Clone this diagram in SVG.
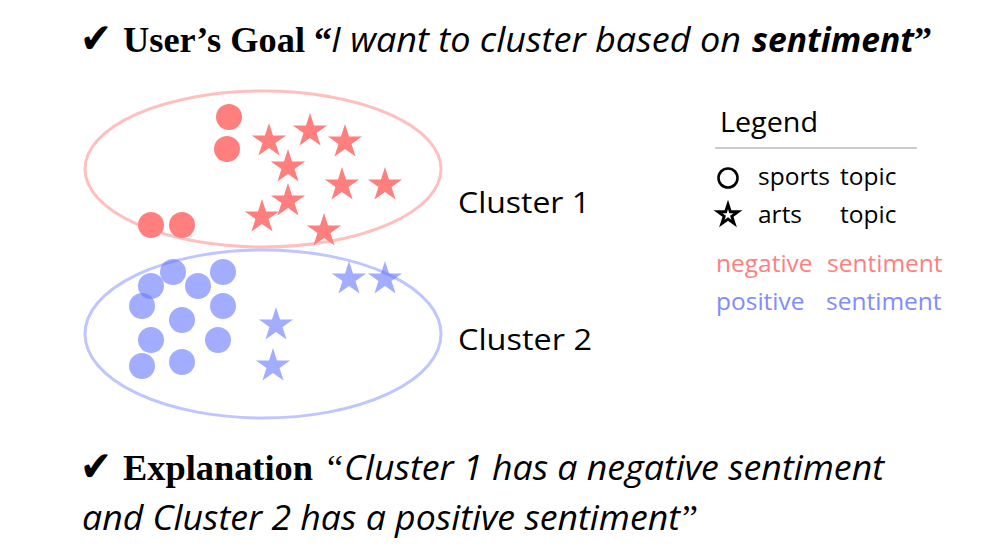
<svg xmlns="http://www.w3.org/2000/svg" xmlns:xlink="http://www.w3.org/1999/xlink" width="981" height="554" viewBox="0 0 981 554">
<style>
.serifb{font-family:"Liberation Serif","Times New Roman",serif;font-weight:bold;font-size:36px;fill:#000}
.chk{font-family:"DejaVu Sans",sans-serif;font-size:42px;font-weight:bold;fill:#000}
.it{font-family:"Open Sans","Noto Sans",sans-serif;font-style:italic;font-size:34px;fill:#000}
.lbl{font-family:"Open Sans","Noto Sans",sans-serif;font-size:30px;fill:#000}
.leg{font-family:"Open Sans","Noto Sans",sans-serif;font-size:24.5px;fill:#000}
.red{fill:#ff7f7f}
.blue{fill:#6677ff;fill-opacity:0.6}
</style>
<defs>
<polygon id="star" points="0,-18 4.04,-5.56 17.12,-5.56 6.53,2.12 10.58,14.56 0,6.88 -10.58,14.56 -6.53,2.12 -17.12,-5.56 -4.04,-5.56"/>
<circle id="dot" r="13"/>
</defs>
<rect width="981" height="554" fill="#fff"/>

<g id="title">
<text class="chk" x="80" y="53" textLength="32" lengthAdjust="spacingAndGlyphs">✔</text>
<text class="serifb" x="123" y="52" textLength="182" lengthAdjust="spacingAndGlyphs">User’s Goal</text>
<text class="serifb" x="314" y="52">“</text>
<text class="it" x="331" y="52" textLength="410" lengthAdjust="spacingAndGlyphs">I want to cluster based on</text>
<text class="it" x="752" y="52" font-weight="bold" textLength="162" lengthAdjust="spacingAndGlyphs">sentiment</text>
<text class="serifb" x="914" y="52">”</text>
</g>

<g id="cluster1">
<ellipse cx="263" cy="169" rx="178" ry="78" fill="none" stroke="#ff7f7f" stroke-opacity="0.5" stroke-width="3"/>
<g class="red">
<use xlink:href="#dot" x="229" y="117"/>
<use xlink:href="#dot" x="227" y="149"/>
<use xlink:href="#dot" x="151" y="225"/>
<use xlink:href="#dot" x="182" y="225"/>
<use xlink:href="#star" x="269" y="141"/>
<use xlink:href="#star" x="310" y="131"/>
<use xlink:href="#star" x="345" y="142"/>
<use xlink:href="#star" x="288" y="167"/>
<use xlink:href="#star" x="342" y="185"/>
<use xlink:href="#star" x="385" y="185"/>
<use xlink:href="#star" x="288" y="201"/>
<use xlink:href="#star" x="262" y="217"/>
<use xlink:href="#star" x="324" y="231"/>
</g>
<text class="lbl" x="458" y="213" textLength="132" lengthAdjust="spacingAndGlyphs">Cluster 1</text>
</g>

<g id="cluster2">
<ellipse cx="263" cy="334" rx="178" ry="84" fill="none" stroke="#6677ff" stroke-opacity="0.42" stroke-width="3"/>
<g class="blue">
<use xlink:href="#dot" x="151" y="286"/>
<use xlink:href="#dot" x="173" y="272"/>
<use xlink:href="#dot" x="198" y="286"/>
<use xlink:href="#dot" x="223" y="272"/>
<use xlink:href="#dot" x="142" y="306"/>
<use xlink:href="#dot" x="182" y="320"/>
<use xlink:href="#dot" x="223" y="306"/>
<use xlink:href="#dot" x="151" y="340"/>
<use xlink:href="#dot" x="218" y="340"/>
<use xlink:href="#dot" x="142" y="366"/>
<use xlink:href="#dot" x="182" y="362"/>
<use xlink:href="#star" x="349" y="279"/>
<use xlink:href="#star" x="385" y="279"/>
<use xlink:href="#star" x="276" y="325"/>
<use xlink:href="#star" x="273" y="366"/>
</g>
<text class="lbl" x="458" y="350" textLength="134" lengthAdjust="spacingAndGlyphs">Cluster 2</text>
</g>

<g id="legend">
<text class="leg" x="720" y="132" style="font-size:27px" textLength="98" lengthAdjust="spacingAndGlyphs">Legend</text>
<line x1="715" y1="148" x2="917" y2="148" stroke="#bbb" stroke-width="1.5"/>
<circle cx="728" cy="178" r="9.5" fill="none" stroke="#000" stroke-width="2.6"/>
<text class="leg" x="758" y="185">sports</text>
<text class="leg" x="840" y="185">topic</text>
<use xlink:href="#star" transform="translate(728,215) scale(0.58)" fill="#fff" stroke="#000" stroke-width="5"/>
<text class="leg" x="758" y="223">arts</text>
<text class="leg" x="840" y="223">topic</text>
<text class="leg" x="716" y="272" style="fill:#ff7f7f">negative</text>
<text class="leg" x="827" y="272" style="fill:#ff7f7f">sentiment</text>
<text class="leg" x="716" y="310" style="fill:#7f8cff">positive</text>
<text class="leg" x="826" y="310" style="fill:#7f8cff">sentiment</text>
</g>

<g id="explanation">
<text class="chk" x="80" y="481" textLength="32" lengthAdjust="spacingAndGlyphs">✔</text>
<text class="serifb" x="123" y="480" textLength="190" lengthAdjust="spacingAndGlyphs">Explanation</text>
<text class="serifb" x="327" y="480" style="font-weight:normal">“</text>
<text class="it" x="344" y="480" textLength="540" lengthAdjust="spacingAndGlyphs">Cluster 1 has a negative sentiment</text>
<text class="it" x="82" y="530" textLength="598" lengthAdjust="spacingAndGlyphs">and Cluster 2 has a positive sentiment</text>
<text class="serifb" x="682" y="530" style="font-weight:normal">”</text>
</g>
</svg>
